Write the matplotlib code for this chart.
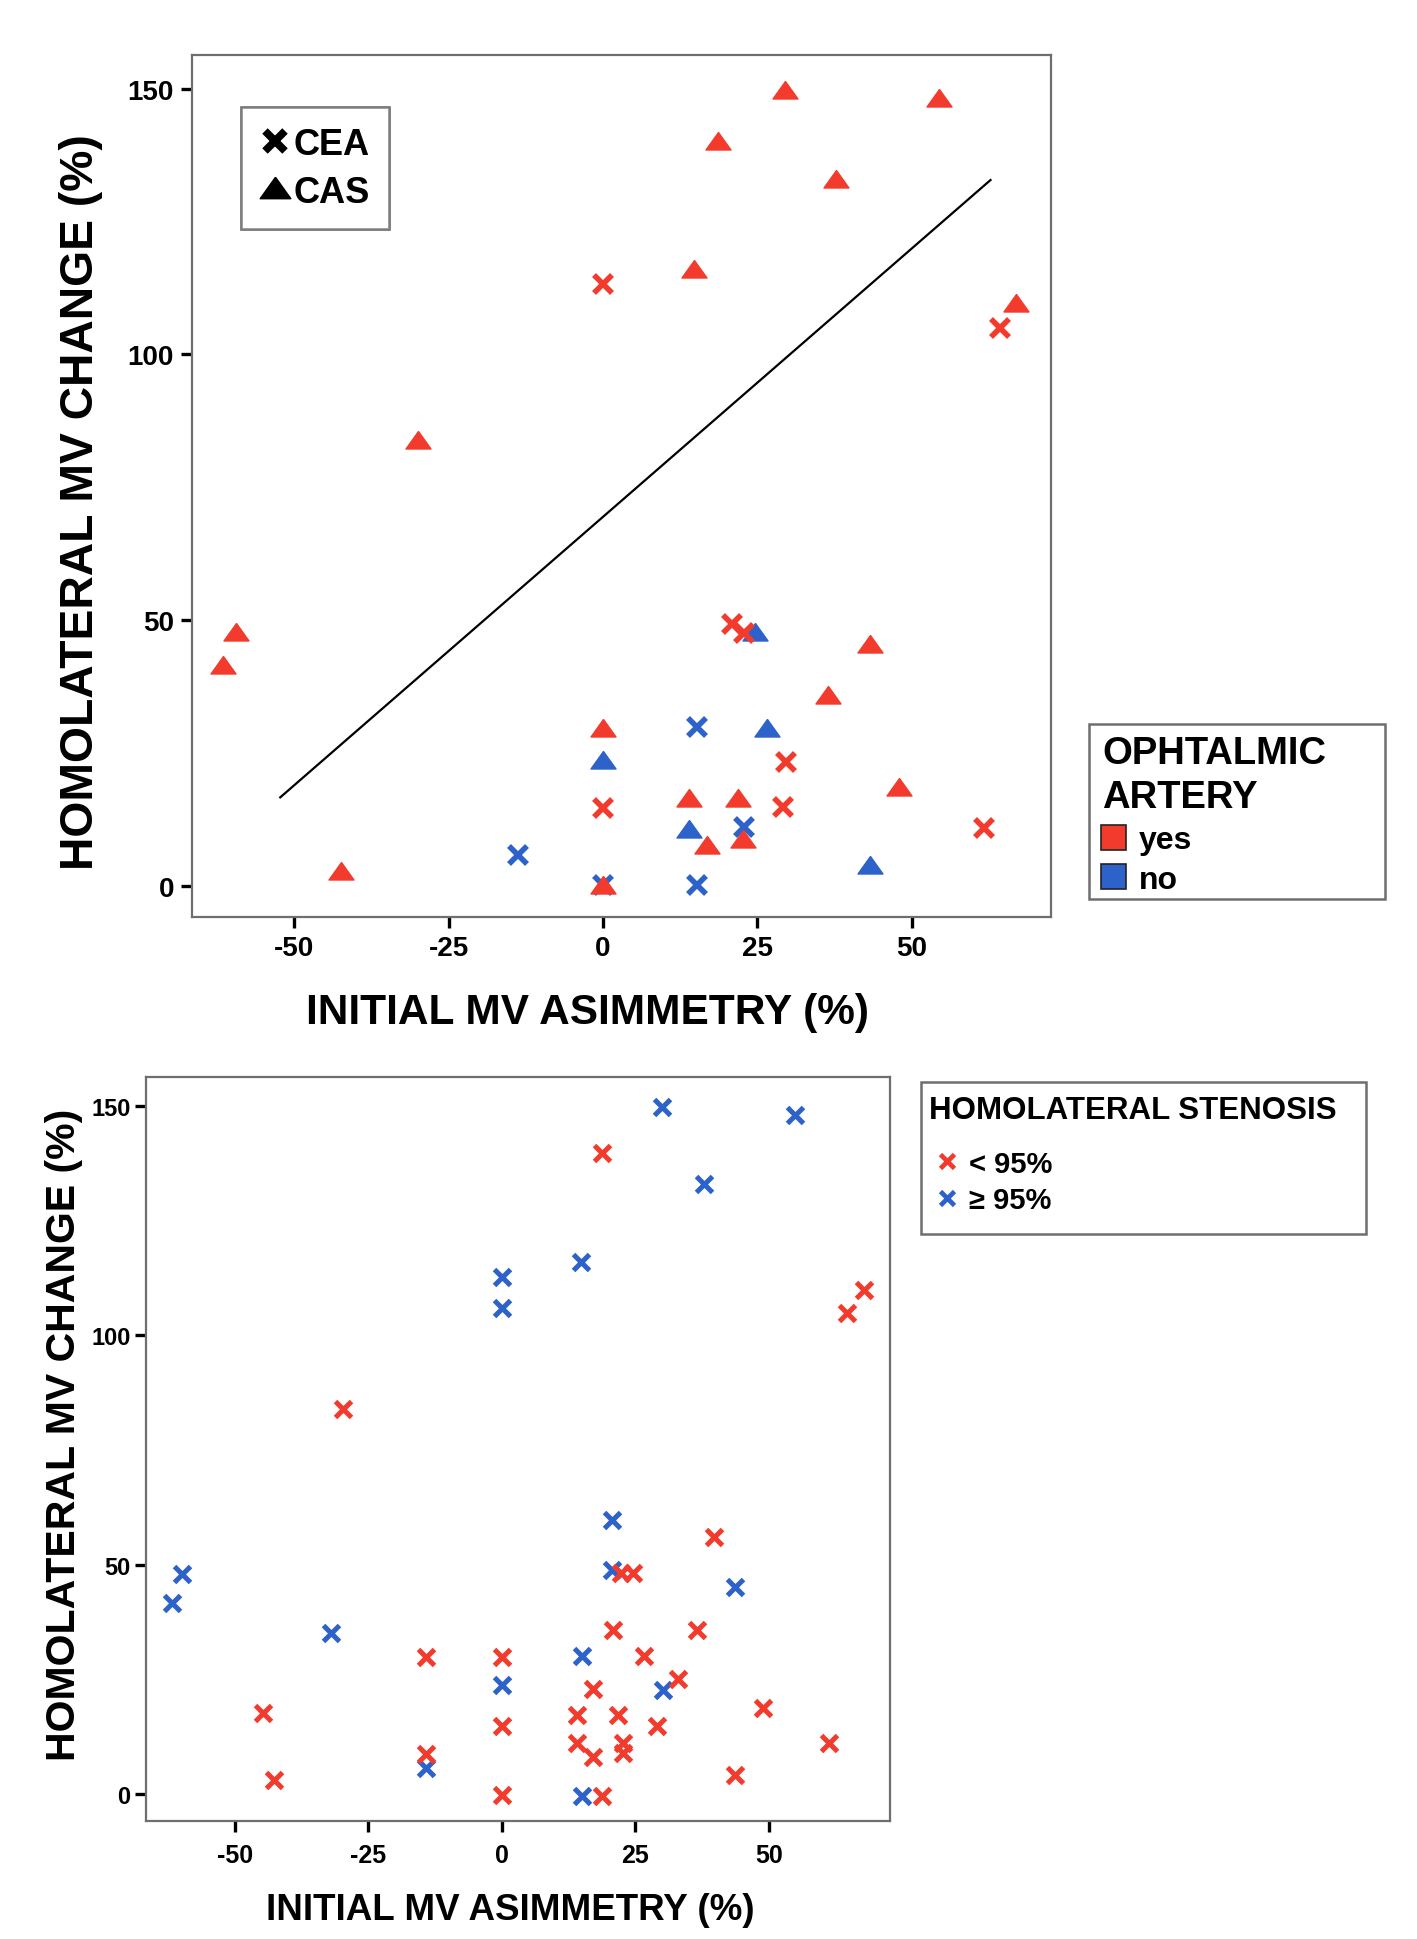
import matplotlib
matplotlib.use("Agg")
import matplotlib.pyplot as plt
from matplotlib.lines import Line2D
from matplotlib.patches import Patch, Rectangle

plt.rcParams['font.family'] = ['Liberation Sans', 'DejaVu Sans']
plt.rcParams['font.weight'] = 'bold'
plt.rcParams['axes.unicode_minus'] = False

# ---------------- data: top panel (ophthalmic artery) ----------------
cea_yes_x = [0, 64.4, 20.9, 22.8, 29.6, 0, 29.2, 61.7]
cea_yes_y = [113.3, 104.9, 49.3, 47.7, 23.3, 14.7, 14.9, 10.9]
cea_no_x = [15.2, -13.8, 22.9, 0, 15.2]
cea_no_y = [29.9, 5.8, 11.1, 0.2, 0.3]
cas_yes_x = [29.5, 54.5, 18.6, 37.7, 14.8, 67.0, -30.0, -59.5, -61.5, 43.3,
             36.5, 0, 48.0, 14.0, 21.8, 16.8, 22.7, -42.5, 0]
cas_yes_y = [149.5, 148.0, 140.0, 132.8, 115.8, 109.5, 83.7, 47.7, 41.4, 45.3,
             35.8, 29.5, 18.4, 16.4, 16.4, 7.6, 8.6, 2.6, 0]
cas_no_x = [24.7, 26.6, 0, 14.0, 43.3]
cas_no_y = [47.7, 29.6, 23.5, 10.5, 3.7]
fit_x = [-52.3, 62.8]
fit_y = [16.7, 132.8]

# ---------------- data: bottom panel (homolateral stenosis) ----------------
ge95_x = [29.9, 54.8, 37.8, 14.8, 0, 0, 20.6, -59.9, -61.7, 20.6, 43.6, -32.0,
          14.9, 0, 30.1, -14.2, 14.9]
ge95_y = [149.7, 148.1, 133.0, 116.0, 112.8, 106.0, 59.9, 48.0, 41.8, 49.0, 45.2,
          35.1, 30.2, 23.9, 22.8, 5.7, -0.3]
lt95_x = [18.8, 67.7, 64.5, -29.7, 39.7, 22.3, 24.6, 20.7, 36.6, -14.2, 0, 26.5,
          32.9, 17.0, -44.7, 14.0, 21.7, 48.8, 0, 29.0, 14.0, 22.6, 22.6, 61.3,
          17.0, -14.2, -42.7, 43.6, 0, 18.8]
lt95_y = [139.7, 109.8, 104.9, 83.9, 56.1, 48.3, 48.3, 35.8, 35.8, 30.0, 30.0, 30.2,
          25.2, 23.0, 17.8, 17.3, 17.3, 18.9, 14.9, 14.9, 11.2, 11.2, 9.0, 11.1,
          8.2, 8.8, 3.2, 4.3, -0.1, -0.3]

x_ticks = [-50, -25, 0, 25, 50]
y_ticks = [0, 50, 100, 150]
x_label = "INITIAL MV ASIMMETRY (%)"
y_label = "HOMOLATERAL MV CHANGE (%)"
procedure_labels = ['CEA', 'CAS']
oph_title = ['OPHTALMIC', 'ARTERY']
oph_labels = ['yes', 'no']
sten_title = 'HOMOLATERAL STENOSIS'
sten_labels = ['< 95%', '\u2265 95%']

RED = '#F23B2C'
BLUE = '#2C62C9'
FRAME = '#6E6E6E'
tri = [(0, 0.8), (-1, -0.6), (1, -0.6), (0, 0.8)]

fig = plt.figure(figsize=(14.17, 19.40), dpi=100)
ax1 = fig.add_axes([0.1355, 0.5268, 0.6062, 0.4443])
ax2 = fig.add_axes([0.1030, 0.0608, 0.5250, 0.3835])

for ax in (ax1, ax2):
    ax.set_xlim(-66.6, 72.6)
    ax.set_ylim(-5.8, 156.3)
    ax.set_xticks(x_ticks)
    ax.set_yticks(y_ticks)
    for s in ax.spines.values():
        s.set_color(FRAME)
        s.set_linewidth(1.6)
    ax.tick_params(top=False, right=False, direction='out', length=8,
                   width=2.4, color='black')

# ---- top panel ----
ax1.plot(fit_x, fit_y, color='black', lw=1.6, zorder=2)
ax1.plot(cas_no_x, cas_no_y, ls='none', marker=tri, ms=18, color=BLUE, zorder=3)
ax1.plot(cea_no_x, cea_no_y, ls='none', marker='x', ms=13, mew=4, color=BLUE, zorder=3)
ax1.plot(cas_yes_x, cas_yes_y, ls='none', marker=tri, ms=18, color=RED, zorder=4)
ax1.plot(cea_yes_x, cea_yes_y, ls='none', marker='x', ms=13, mew=4, color=RED, zorder=4)
ax1.tick_params(labelsize=20, pad=5)
for t in ax1.get_xticklabels() + ax1.get_yticklabels():
    t.set_fontweight('bold')
ax1.set_xlabel(x_label, fontsize=30.5, fontweight='bold', labelpad=22, x=0.46)
ax1.set_ylabel(y_label, fontsize=33.3, fontweight='bold', labelpad=18, y=0.482)

h_sym = [Line2D([], [], ls='none', marker='x', ms=15, mew=5.5, color='black'),
         Line2D([], [], ls='none', marker=tri, ms=22, color='black')]
leg1 = ax1.legend(h_sym, procedure_labels, loc='upper left',
                  bbox_to_anchor=(0.170, 0.9443), bbox_transform=fig.transFigure,
                  borderaxespad=0, fancybox=False, frameon=True, handlelength=0.8,
                  handletextpad=0.1, labelspacing=0.35, borderpad=0.55,
                  prop={'weight': 'bold', 'size': 26})
leg1.get_frame().set_edgecolor(FRAME)
leg1.get_frame().set_linewidth(1.8)
ax1.add_artist(leg1)

# ophthalmic artery legend (frame drawn as rectangle, title as text)
fig.add_artist(Rectangle((0.7685, 0.5361), 0.2089, 0.0902, transform=fig.transFigure,
                         facecolor='white', edgecolor=FRAME, linewidth=1.8, zorder=1))
fig.text(1102 / 1417, 1 - 753.7 / 1940, oph_title[0], fontsize=27.5, fontweight='bold',
         ha='left', va='center', zorder=3)
fig.text(1102 / 1417, 1 - 798.3 / 1940, oph_title[1], fontsize=27.5, fontweight='bold',
         ha='left', va='center', zorder=3)
h_oph = [Patch(facecolor=RED, edgecolor='#222222', linewidth=1.2),
         Patch(facecolor=BLUE, edgecolor='#222222', linewidth=1.2)]
leg2 = fig.legend(h_oph, oph_labels, loc='center left',
                  bbox_to_anchor=(0.7773, 0.5562), bbox_transform=fig.transFigure,
                  borderaxespad=0, borderpad=0, frameon=False,
                  prop={'weight': 'bold', 'size': 23}, handlelength=0.78,
                  handleheight=0.8, handletextpad=0.38, labelspacing=0.28)
leg2.set_zorder(3)

# ---- bottom panel ----
ax2.plot(ge95_x, ge95_y, ls='none', marker='x', ms=11, mew=3.6, color=BLUE, zorder=3)
ax2.plot(lt95_x, lt95_y, ls='none', marker='x', ms=11, mew=3.6, color=RED, zorder=4)
ax2.tick_params(axis='x', labelsize=18, pad=8)
ax2.tick_params(axis='y', labelsize=17, pad=3)
for t in ax2.get_xticklabels() + ax2.get_yticklabels():
    t.set_fontweight('bold')
ax2.set_xlabel(x_label, fontsize=26.5, fontweight='bold', labelpad=18, x=0.49)
ax2.set_ylabel(y_label, fontsize=29.5, fontweight='bold', labelpad=6, y=0.52)

# homolateral stenosis legend
fig.add_artist(Rectangle((0.6500, 0.3634), 0.3140, 0.0784, transform=fig.transFigure,
                         facecolor='white', edgecolor=FRAME, linewidth=1.8, zorder=1))
fig.text(929.5 / 1417, 1 - 1111.4 / 1940, sten_title, fontsize=22.5, fontweight='bold',
         ha='left', va='center', zorder=3)
h_st = [Line2D([], [], ls='none', marker='x', ms=10, mew=3.4, color=RED),
        Line2D([], [], ls='none', marker='x', ms=10, mew=3.4, color=BLUE)]
leg3 = fig.legend(h_st, sten_labels, loc='center left',
                  bbox_to_anchor=(0.660, 0.3902), bbox_transform=fig.transFigure,
                  borderaxespad=0, borderpad=0, frameon=False,
                  prop={'weight': 'bold', 'size': 21}, handlelength=0.8,
                  handletextpad=0.37, labelspacing=0.3)
leg3.set_zorder(3)

fig.savefig('out.png', dpi=100, facecolor='white')
